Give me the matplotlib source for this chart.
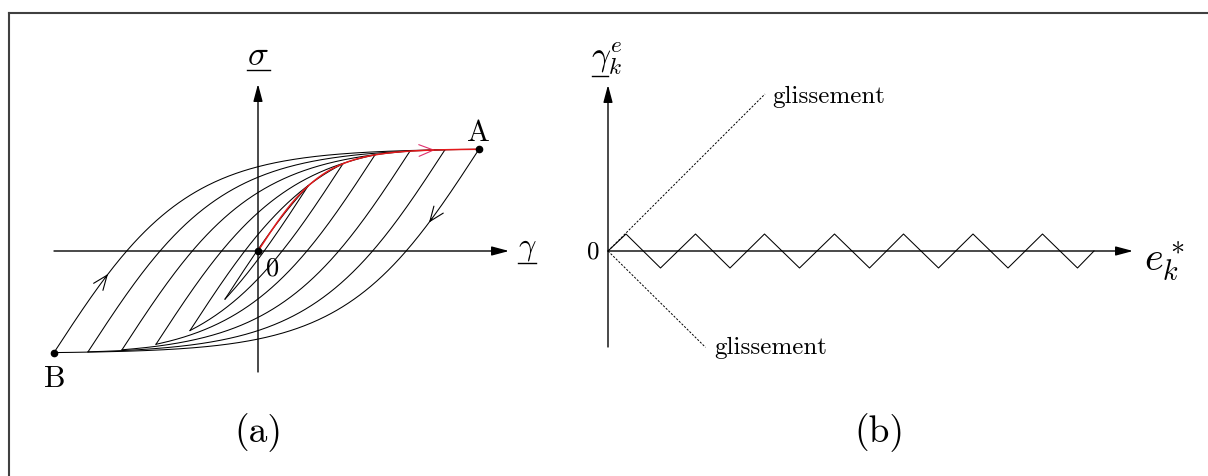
import numpy as np
import matplotlib
matplotlib.use('Agg')
import matplotlib.pyplot as plt
from matplotlib.lines import Line2D

plt.rcParams['mathtext.fontset'] = 'cm'

# --- panel (a): reversal points of the cyclic loading (strain, px units from origin)
top_strain = [50, 85, 117, 152, 187, 221]        # last one is A
bottom_strain = [-33, -68, -102, -136, -170, -204]  # last one is B
s_max = 102.0   # saturation level of the stress
g_ref = 66.5    # reference strain of the backbone curve

# --- panel (b): zigzag of gamma_k^e against e_k^*
zig_x = [0, 18, 52.5, 87.5, 122, 156.5, 191.5, 226.5, 261.5, 295.5,
         330.5, 365, 400, 434.5, 469.5, 486]
zig_y = [0, 17, -17, 17, -17, 17, -17, 17, -17, 17, -17, 17, -17, 17, -17, 0]
slip_up = (157, 157)
slip_down = (97.5, -96.3)

W, H = 1208, 477
fig = plt.figure(figsize=(W / 100, H / 100), dpi=100)


def px_axes(left, top, right, bottom, ox, oy):
    # axes where one data unit is one pixel, origin at (ox, oy)
    ax = fig.add_axes([left / W, 1 - bottom / H, (right - left) / W, (bottom - top) / H])
    ax.set_xlim(left - ox, right - ox)
    ax.set_ylim(oy - bottom, oy - top)
    ax.axis('off')
    return ax


def backbone(g):
    return s_max * np.tanh(np.asarray(g) / g_ref)


def branch(g0, s0, g1, n=300):
    g = np.linspace(g0, g1, n)
    sgn = np.sign(g1 - g0)
    return g, s0 + sgn * 2 * s_max * np.tanh(np.abs(g - g0) / (2 * g_ref))


def axis_arrow(ax, start, tip):
    ax.annotate('', xy=tip, xytext=start,
                arrowprops=dict(arrowstyle='-|>,head_length=0.75,head_width=0.2',
                                mutation_scale=14, lw=1.0, color='black',
                                shrinkA=0, shrinkB=0))


def chevron(ax, g_from, g_to, s_from, s_to, color='black'):
    ax.annotate('', xy=(g_to, s_to), xytext=(g_from, s_from),
                arrowprops=dict(arrowstyle='->,head_length=0.75,head_width=0.3',
                                mutation_scale=14, lw=0.8, color=color,
                                shrinkA=0, shrinkB=0))


# frame around the figure (top and left sides)
fig.add_artist(Line2D([9 / W, 1], [1 - 14 / H, 1 - 14 / H], color='#404040', lw=1.5,
                      transform=fig.transFigure))
fig.add_artist(Line2D([9 / W, 9 / W], [1 - 14 / H, 0], color='#404040', lw=1.5,
                      transform=fig.transFigure))

# ================= panel (a) =================
ax = px_axes(14, 18, 590, 470, 258, 252)

axis_arrow(ax, (bottom_strain[-1], 0), (251, 0))
axis_arrow(ax, (0, -121), (0, 167))

top_stress = [float(backbone(g)) for g in top_strain]
bottom_stress = []
for k in range(len(top_strain)):
    g, s = branch(top_strain[k], top_stress[k], bottom_strain[k])
    ax.plot(g, s, color='black', lw=0.75, clip_on=False)
    bottom_stress.append(s[-1])
    # reloading branch closes the loop on the previous top point
    g, s = branch(bottom_strain[k], bottom_stress[k], top_strain[k])
    ax.plot(g, s, color='black', lw=0.75, clip_on=False)

g_red = np.linspace(0, top_strain[-1], 300)
ax.plot(g_red, backbone(g_red), color='#e41a1c', lw=1.1, zorder=4)

# arrows along the curves
chevron(ax, 174, 177, float(backbone(174)), float(backbone(177)), color='#e0306e')
gA, sA = top_strain[-1], top_stress[-1]
gB, sB = bottom_strain[-1], bottom_stress[-1]
_, s_d = branch(gA, sA, 171, n=2)
_, s_d0 = branch(gA, sA, 174, n=2)
chevron(ax, 174, 171, s_d0[-1], s_d[-1])
_, s_u = branch(gB, sB, -150, n=2)
_, s_u0 = branch(gB, sB, -153, n=2)
chevron(ax, -153, -150, s_u0[-1], s_u[-1])

ax.plot([0, gA, gB], [0, sA, sB], 'o', color='black', ms=4.5, zorder=5, clip_on=False)

ax.text(0, 187, r'$\sigma$', fontsize=25, ha='center', va='baseline')
ax.plot([-11, 12], [181, 181], color='black', lw=1.0)
ax.text(269, -3, r'$\gamma$', fontsize=22, ha='center', va='baseline')
ax.plot([260, 278], [-11.5, -11.5], color='black', lw=1.0)
ax.text(8, -5, '0', fontsize=19, family='cmr10', ha='left', va='top')
ax.text(220, 111, 'A', fontsize=22, family='cmr10', ha='center', va='baseline')
ax.text(-203.5, -135, 'B', fontsize=22, family='cmr10', ha='center', va='baseline')
ax.text(0, -190, '(a)', fontsize=27, family='cmr10', ha='center', va='baseline')

# ================= panel (b) =================
bx = px_axes(590, 18, 1205, 470, 608, 252)

axis_arrow(bx, (0, 0), (525, 0))
axis_arrow(bx, (0, -96), (0, 166))

bx.plot(zig_x, zig_y, color='black', lw=0.75)
bx.plot([0, slip_up[0]], [0, slip_up[1]], color='black', lw=0.7, ls=(0, (2.2, 1.6)))
bx.plot([0, slip_down[0]], [0, slip_down[1]], color='black', lw=0.7, ls=(0, (2.2, 1.6)))

bx.text(164, 149, 'glissement', fontsize=18, family='cmr10', ha='left', va='baseline')
bx.text(106, -102, 'glissement', fontsize=18, family='cmr10', ha='left', va='baseline')
bx.text(-9, 0, '0', fontsize=18, family='cmr10', ha='right', va='center')
bx.text(-17, 186, r'$\gamma_k^e$', fontsize=24, ha='left', va='baseline')
bx.plot([-16, 0], [175, 175], color='black', lw=1.0)
bx.text(536, -19, r'$e_k^*$', fontsize=29, ha='left', va='baseline')
bx.text(271, -190, '(b)', fontsize=27, family='cmr10', ha='center', va='baseline')

fig.savefig('out.png', dpi=100)
